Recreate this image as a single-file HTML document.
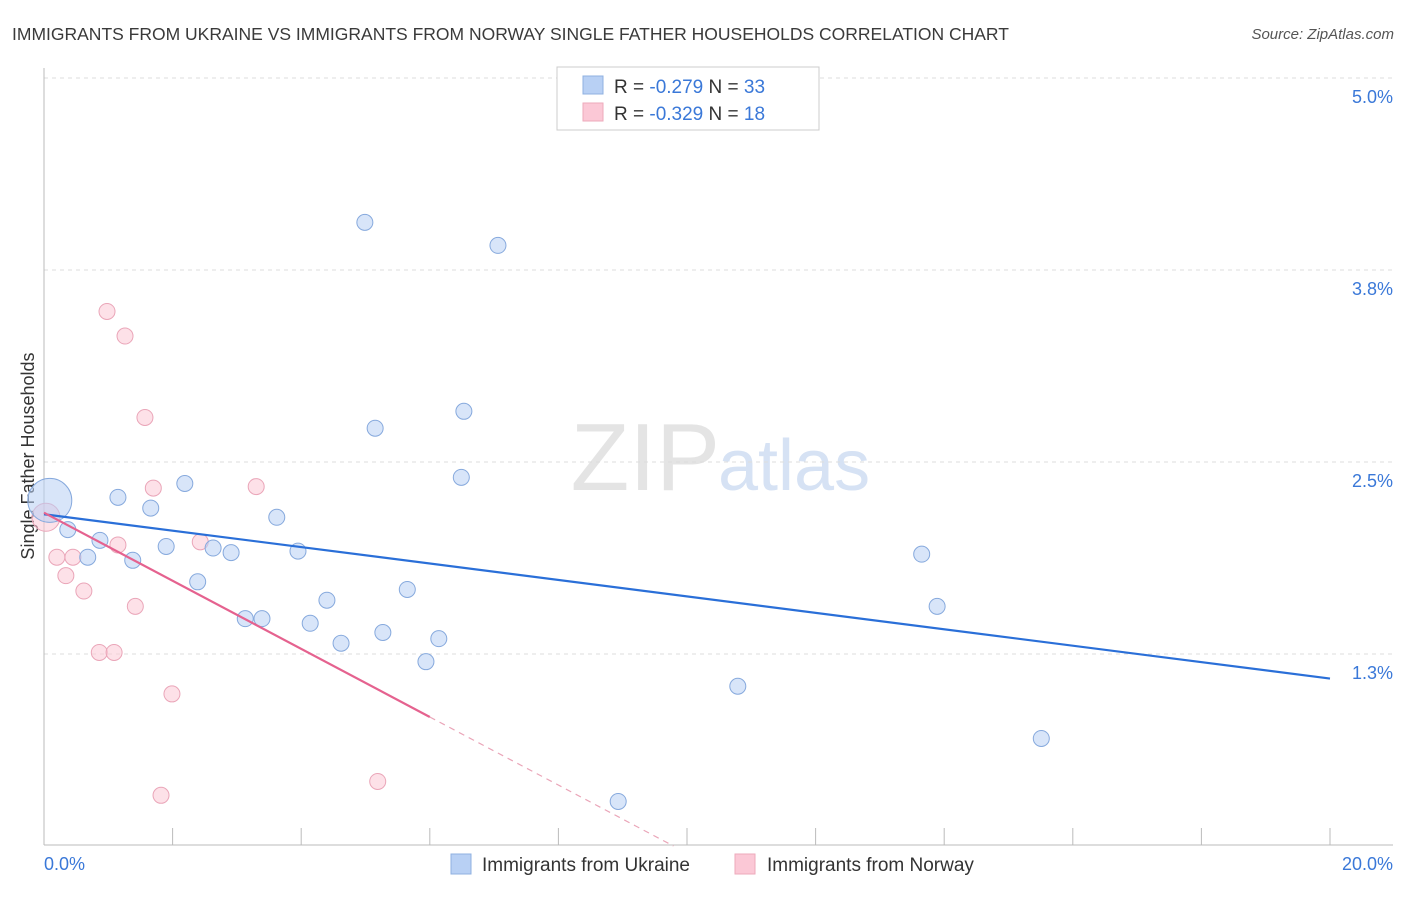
<!DOCTYPE html>
<html><head><meta charset="utf-8"><style>
body{margin:0;background:#fff;font-family:"Liberation Sans",sans-serif;}
svg text{font-family:"Liberation Sans",sans-serif;}
</style></head><body>
<svg id="chart" width="1406" height="892" xmlns="http://www.w3.org/2000/svg">
<text x="12" y="40" font-size="17.5" fill="#3a3a3a">IMMIGRANTS FROM UKRAINE VS IMMIGRANTS FROM NORWAY SINGLE FATHER HOUSEHOLDS CORRELATION CHART</text>
<text x="1394" y="39" font-size="15" fill="#555" font-style="italic" text-anchor="end">Source: ZipAtlas.com</text>
<text x="720" y="490" font-size="96" fill="#e4e4e4" text-anchor="end" font-family="Liberation Serif">ZIP</text>
<text x="718" y="490" font-size="72" fill="#d6e2f4">atlas</text>
<text transform="translate(34,456) rotate(-90)" font-size="18" fill="#333" text-anchor="middle">Single Father Households</text>
<g id="grid"></g><g id="marks"></g>
<g>
<rect x="557" y="67" width="262" height="63" fill="#fff" stroke="#ccc"/>
<rect x="583" y="76" width="20" height="18" fill="#b8d0f4" stroke="#8fb0e0"/>
<rect x="583" y="103" width="20" height="18" fill="#fbc8d6" stroke="#eeaabb"/>
<text x="614" y="93" font-size="19" fill="#333">R = <tspan fill="#3a78d8">-0.279</tspan>   N = <tspan fill="#3a78d8">33</tspan></text>
<text x="614" y="120" font-size="19" fill="#333">R = <tspan fill="#3a78d8">-0.329</tspan>   N = <tspan fill="#3a78d8"> 18</tspan></text>
</g>
<g>
<rect x="451" y="854" width="20" height="20" fill="#b8d0f4" stroke="#8fb0e0"/>
<text x="482" y="871" font-size="19" fill="#333">Immigrants from Ukraine</text>
<rect x="735" y="854" width="20" height="20" fill="#fbc8d6" stroke="#eeaabb"/>
<text x="767" y="871" font-size="19" fill="#333">Immigrants from Norway</text>
</g>
</svg>
<script>
const xTicks=[0,2,4,6,8,10,12,14,16,18,20];
const yTicks=[5.0,3.75,2.5,1.25];
const yTickLabels=["5.0%","3.8%","2.5%","1.3%"];
const ukraineX=[4.99,7.06,6.53,5.15,6.49,1.15,2.19,1.66,3.62,0.37,0.87,0.68,1.90,2.63,2.91,3.95,1.38,2.39,4.40,5.65,3.13,3.39,4.14,4.62,5.27,6.14,5.94,13.65,13.89,10.79,15.51,8.93,0.09];
const ukraineY=[4.06,3.91,2.83,2.72,2.40,2.27,2.36,2.20,2.14,2.06,1.99,1.88,1.95,1.94,1.91,1.92,1.86,1.72,1.60,1.67,1.48,1.48,1.45,1.32,1.39,1.35,1.20,1.90,1.56,1.04,0.70,0.29,2.25];
const norwayX=[0.98,1.26,1.57,1.70,3.30,2.43,1.15,0.20,0.45,0.34,0.62,1.42,0.86,1.09,1.99,1.82,5.19,0.03];
const norwayY=[3.48,3.32,2.79,2.33,2.34,1.98,1.96,1.88,1.88,1.76,1.66,1.56,1.26,1.26,0.99,0.33,0.42,2.14];
const ukraineTrend=[2.16,1.09];
const norwayTrend=[2.17,0.84];
const norwaySolidEnd=6.0;
const X=v=>44+v/20*1286, Y=v=>78+(5-v)*153.6;
const NS="http://www.w3.org/2000/svg";
function mk(tag,at,parent){const e=document.createElementNS(NS,tag);for(const k in at)e.setAttribute(k,at[k]);parent.appendChild(e);return e;}
const g=document.getElementById('grid'), m=document.getElementById('marks');
yTicks.forEach((t,i)=>{
 const l=mk('line',{x1:44,x2:1393,y1:Y(t),y2:Y(t),stroke:'#ddd','stroke-dasharray':'4,4'},g);
 
 
 const tx=mk('text',{x:1393,y:Y(t)+25,'font-size':18,fill:'#3a78d8','text-anchor':'end'},g);
 tx.textContent=yTickLabels[i];
 
 
});
const ax=mk('line',{x1:44,x2:44,y1:68,y2:845,stroke:'#bbb'},g);


const bx=mk('line',{x1:44,x2:1393,y1:845,y2:845,stroke:'#bbb'},g);


xTicks.forEach(t=>{
 const l=mk('line',{x1:X(t),x2:X(t),y1:828,y2:845,stroke:'#bbb'},g);
 
 
});
[[0,'0.0%','start',44],[20,'20.0%','end',1393]].forEach(a=>{
 const tx=mk('text',{x:a[3],y:870,'font-size':18,fill:'#3a78d8','text-anchor':a[2]},g);
 tx.textContent=a[1];
 
 
});
norwayX.forEach((x,i)=>{
 const c=mk('circle',{cx:X(x),cy:Y(norwayY[i]),r:i==norwayX.length-1?14:8,fill:'rgba(251,200,214,0.55)',stroke:'#eaa5b8','stroke-width':1},m);
 
 
});
ukraineX.forEach((x,i)=>{
 const c=mk('circle',{cx:X(x),cy:Y(ukraineY[i]),r:i==ukraineX.length-1?22:8,fill:'rgba(184,208,244,0.55)',stroke:'#86a9dd','stroke-width':1},m);
 
 
});
const bl=mk('line',{x1:X(0),y1:Y(ukraineTrend[0]),x2:X(20),y2:Y(ukraineTrend[1]),stroke:'#2a6fd8','stroke-width':2.2},m);


const slope=(norwayTrend[1]-norwayTrend[0])/norwaySolidEnd;
const zeroX=-norwayTrend[0]/slope;
const pl=mk('line',{x1:X(0),y1:Y(norwayTrend[0]),x2:X(norwaySolidEnd),y2:Y(norwayTrend[1]),stroke:'#e5628f','stroke-width':2.2},m);


const pd=mk('line',{x1:X(norwaySolidEnd),y1:Y(norwayTrend[1]),x2:X(zeroX),y2:Y(0),stroke:'#eaa5b8','stroke-width':1.2,'stroke-dasharray':'6,5'},m);


</script>
</body></html>
